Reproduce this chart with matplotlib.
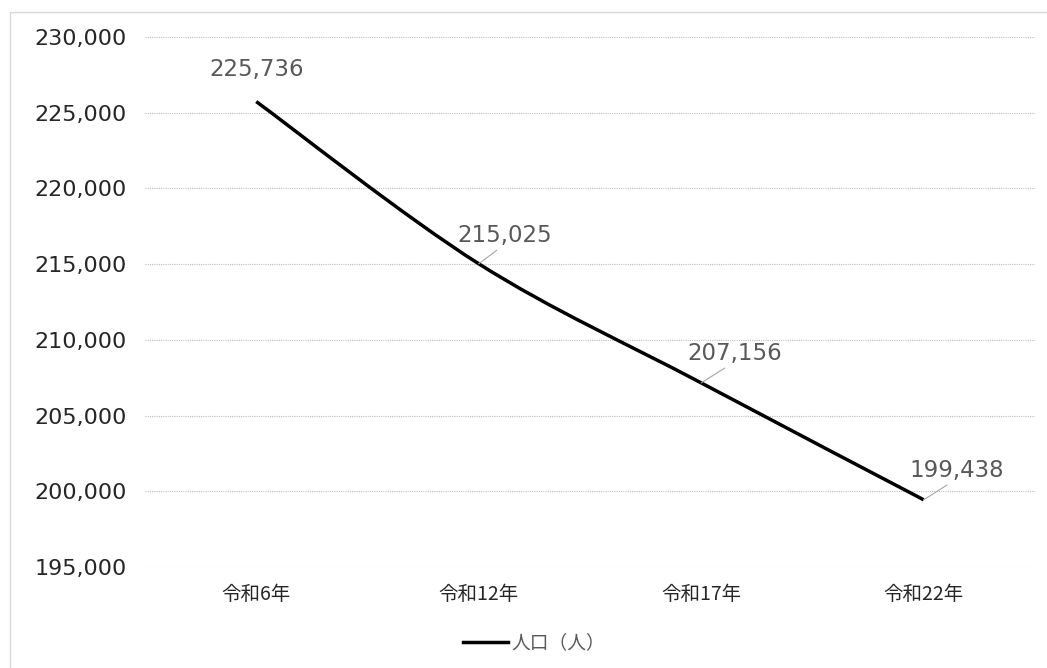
import matplotlib.pyplot as plt
from matplotlib.path import Path
from matplotlib.patches import PathPatch, Rectangle
from matplotlib.lines import Line2D
import numpy as np

plt.rcParams['font.family'] = ['Noto Sans CJK JP', 'DejaVu Sans']
num_font = ['DejaVu Sans', 'Noto Sans CJK JP']

years = ['令和6年', '令和12年', '令和17年', '令和22年']
population = [225736, 215025, 207156, 199438]
series_name = '人口（人）'
yticks = [195000, 200000, 205000, 210000, 215000, 220000, 225000, 230000]

fig = plt.figure(figsize=(10.47, 6.68), dpi=100)
ax = fig.add_axes([0.1385, 0.1512, 0.85, 0.7934])

# outer chart border
fig.patches.append(Rectangle((10 / 1047, -0.1), 1.2, 1 - 12 / 668 + 0.1,
                             transform=fig.transFigure, fill=False,
                             edgecolor='#d9d9d9', lw=1))

# smoothed line (Catmull-Rom -> Bezier, like Excel's smoothed line)
x = np.arange(len(population), dtype=float)
y = np.array(population, dtype=float)
pts = np.column_stack([x, y])
verts = [pts[0]]
codes = [Path.MOVETO]
for i in range(len(pts) - 1):
    p0 = pts[i - 1] if i > 0 else pts[i]
    p1, p2 = pts[i], pts[i + 1]
    p3 = pts[i + 2] if i + 2 < len(pts) else pts[i + 1]
    c1 = p1 + (p2 - p0) / 6
    c2 = p2 - (p3 - p1) / 6
    verts += [c1, c2, p2]
    codes += [Path.CURVE4] * 3
ax.add_patch(PathPatch(Path(verts, codes), fill=False, edgecolor='black', lw=2.5,
                       capstyle='butt', zorder=3))

ax.set_xlim(-0.5, len(years) - 0.5)
ax.set_ylim(195000, 230000)
ax.set_xticks(x)
ax.set_xticklabels(years, fontsize=14, color='#262626')
ax.set_yticks(yticks)
ax.set_yticklabels([f'{v:,}' for v in yticks], fontsize=16, color='#262626',
                   family=num_font)
ax.tick_params(axis='both', length=0)
ax.tick_params(axis='y', pad=13)
ax.tick_params(axis='x', pad=12)
for s in ax.spines.values():
    s.set_visible(False)
ax.grid(axis='y', color='#bfbfbf', linestyle=(0, (1, 1)), lw=0.8)
ax.set_axisbelow(True)

# data labels
offsets = [(0, 23), (19, 20), (24, 21), (24, 21)]
for i, (v, off) in enumerate(zip(population, offsets)):
    arrow = None
    if i > 0:
        arrow = dict(arrowstyle='-', color='#a6a6a6', lw=0.8,
                     shrinkA=0, shrinkB=0, relpos=(0.5, 0.15))
    ax.annotate(f'{v:,}', (x[i], v), xytext=off, textcoords='offset points',
                ha='center', va='center', fontsize=16.5, color='#595959',
                family=num_font, arrowprops=arrow, zorder=4)

# legend
handle = Line2D([], [], color='black', lw=2.5)
fig.legend([handle], [series_name], loc='center', bbox_to_anchor=(0.51, 0.038),
           frameon=False, fontsize=13.5, labelcolor='#595959',
           handlelength=2.4, handletextpad=0.2)

fig.savefig('out.png', dpi=100)
